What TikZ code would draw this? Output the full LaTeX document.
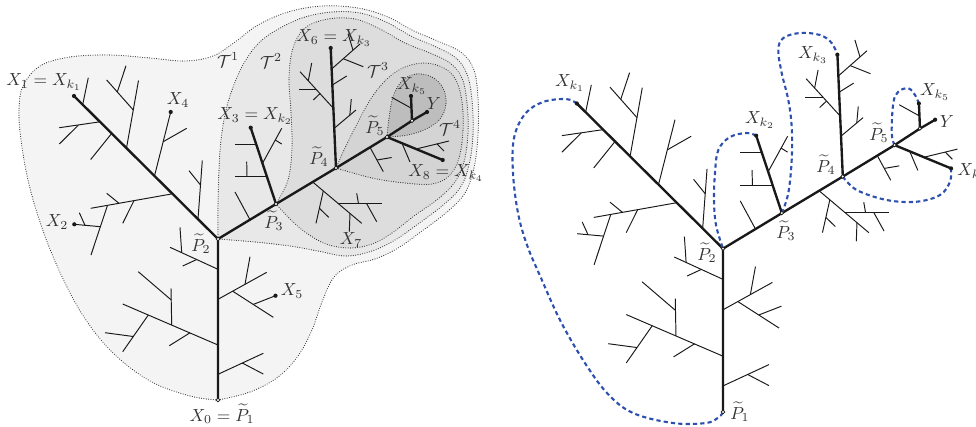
\documentclass[tikz,border=0pt]{standalone}
\usepackage{amsmath}
\definecolor{tA}{gray}{0.955}
\definecolor{tB}{gray}{0.91}
\definecolor{tC}{gray}{0.865}
\definecolor{tD}{gray}{0.83}
\definecolor{tE}{gray}{0.74}
\definecolor{bl}{RGB}{45,80,175}
\tikzset{
 trunk/.style={line width=1.35pt, line cap=round, line join=round, draw=black!90},
 leaf/.style={line width=0.55pt, draw=black!90},
 region/.style={draw=black!80, line width=0.65pt, line cap=round, dash pattern=on 0pt off 1.35pt},
 lbl/.style={inner sep=0pt, text=black!80},
 bluedash/.style={draw=bl, line width=1.2pt, dash pattern=on 2.4pt off 1.8pt},
 pcirc/.style={draw=black!90, line width=0.4pt, fill=white},
}
\newcommand\mytree[1]{%
 \coordinate (#1P1) at (218,400);
 \coordinate (#1P2) at (218,239);
 \coordinate (#1X1) at (74,96);
 \coordinate (#1P3) at (276,204);
 \coordinate (#1P4) at (336,168);
 \coordinate (#1P5) at (387,137);
 \coordinate (#1K) at (412,120.7);
 \coordinate (#1Y) at (427,112);
 \coordinate (#1Xk5) at (411,96);
 \coordinate (#1X8) at (442.7,160);
 \coordinate (#1X3) at (250.7,127.7);
 \coordinate (#1X6) at (330.7,48);
 \coordinate (#1X4) at (170.7,112);
 \coordinate (#1X2) at (74.3,224.3);
 \coordinate (#1X5) at (275.5,295.7);
 \coordinate (#1X7) at (349.3,231.7);
 % leaves on X1--P2
 \draw[leaf] (82.7,104.6)--(88.3,77.7);
 \draw[leaf] (100,121.8)--(59.3,127.7);
 \draw[leaf] (78.3,125.2)--(59.3,144);
 \draw[leaf] (111.7,133.4)--(90.7,159.5);
 \draw[leaf] (126.5,148.1)--(138.5,80.5);
 \draw[leaf] (133.3,110)--(106.7,80);
 \draw[leaf] (117.3,92)--(126,65.7);
 \draw[leaf] (154.5,175.9)--(#1X4);
 \draw[leaf] (163.2,141.7)--(186.7,128.3);
 \draw[leaf] (172.5,193.8)--(90.7,208.3);
 \draw[leaf] (119,203.3)--(106.7,193.3);
 \draw[leaf] (134,200.6)--(122.7,223.3);
 \draw[leaf] (107.5,205.3)--(91,255);
 \draw[leaf] (100.5,226.7)--(#1X2);
 \draw[leaf] (85,225.3)--(79.3,212.7);
 \draw[leaf] (198,219.1)--(202.3,160.5);
 \draw[leaf] (200.5,185)--(189,170.7);
 % leaves on trunk P2--P1
 \draw[leaf] (218,269.3)--(170,247.3);
 \draw[leaf] (181.7,252.7)--(180,227.3);
 \draw[leaf] (196.7,259.5)--(182.7,266);
 \draw[leaf] (218,299.3)--(266.7,272.3);
 \draw[leaf] (245,284.3)--(250,256.7);
 \draw[leaf] (232.7,291.2)--(273.3,317.3);
 \draw[leaf] (253.3,304.4)--(#1X5);
 \draw[leaf] (218,345)--(122.7,304);
 \draw[leaf] (171.7,325.1)--(171,288.3);
 \draw[leaf] (171.3,300)--(138.3,271.7);
 \draw[leaf] (148.3,315)--(122.7,351.7);
 \draw[leaf] (133.3,336.5)--(105,332.7);
 \draw[leaf] (190,332.8)--(169.3,345.7);
 \draw[leaf] (218,374.3)--(263.3,353.3);
 \draw[leaf] (242.3,363)--(263.3,374);
 % P2--P3
 \draw[leaf] (250,219.7)--(235,192);
 % P3--X3
 \draw[leaf] (256.1,144)--(235,144);
 \draw[leaf] (266.9,176.7)--(235,176.7);
 \draw[leaf] (247,176.7)--(246.7,161.7);
 \draw[leaf] (262.5,163.3)--(281.7,128.3);
 \draw[leaf] (275.3,140)--(281.7,144);
 % P3--P4
 \draw[leaf] (312.7,182)--(361.7,223.3);
 \draw[leaf] (323.3,190.9)--(316,223.3);
 \draw[leaf] (319.4,208.3)--(328.7,217.3);
 \draw[leaf] (338.4,203.7)--(381.7,203.7);
 \draw[leaf] (356.7,193.3)--(358.5,203.7);
 \draw[leaf] (366.7,203.7)--(376.7,221.7);
 \draw[leaf] (350,213.4)--(#1X7);
 % P4--P5
 \draw[leaf] (370,147.3)--(383.3,171.7);
 \draw[leaf] (376.9,160)--(391.7,157.5);
 % P4--X6
 \draw[leaf] (331.6,69)--(360,44);
 \draw[leaf] (353,50.2)--(348,33.5);
 \draw[leaf] (343.3,58.7)--(363.3,66.7);
 \draw[leaf] (332.3,85)--(346.7,76);
 \draw[leaf] (333.4,108.3)--(300,71.7);
 \draw[leaf] (308.3,80.8)--(311.7,63);
 \draw[leaf] (316.5,89.8)--(299.3,89.8);
 \draw[leaf] (320,93.6)--(313.3,100);
 \draw[leaf] (334.2,128.3)--(356,110);
 \draw[leaf] (349.8,115.3)--(351.3,99);
 % Xk5
 \draw[leaf] (411.5,108.3)--(391.7,97.3);
 % P5--X8
 \draw[leaf] (402,143.2)--(410,162);
 \draw[leaf] (416,149)--(449,141);
 \draw[leaf] (437,143.9)--(444,151);
 % thick paths
 \draw[trunk] (#1P1)--(#1P2)--(#1X1);
 \draw[trunk] (#1P2)--(#1P3)--(#1P4)--(#1P5)--(#1K)--(#1Y);
 \draw[trunk] (#1P3)--(#1X3);
 \draw[trunk] (#1P4)--(#1X6);
 \draw[trunk] (#1P5)--(#1X8);
 \draw[trunk] (#1K)--(#1Xk5);
}
\newcommand\mycircles[1]{%
 \foreach \q in {P1,P2,P3,P4,P5,K} {\draw[pcirc] (#1\q) circle (1.8);}
}
\begin{document}
\begin{tikzpicture}[x=0.5714pt,y=-0.5714pt]
\useasboundingbox (0,0) rectangle (976,426);
\clip (0,0) rectangle (976,426);
\coordinate (LP1) at (218,400);
\coordinate (LP2) at (218,239);
\coordinate (LP3) at (276,204);
\coordinate (LP4) at (336,168);
\coordinate (LP5) at (387,137);
% ---------- regions ----------
\filldraw[region, fill=tA] plot[smooth, tension=0.6] coordinates {(LP1) (190,396) (150,381) (112,352) (82,314) (58,268) (40,222) (28,180) (21,140) (19,110) (23,86) (40,66) (70,57) (110,55) (150,58) (185,61) (213,56) (235,42) (258,25) (288,12) (322,6) (358,8) (388,17) (414,31) (440,42) (462,53) (474,70) (478,98) (478,135) (474,168) (465,193) (447,212) (422,231) (398,248) (375,259) (352,265) (334,277) (322,302) (312,330) (298,356) (278,377) (250,392) (LP1)} -- cycle;
\filldraw[region, fill=tB] plot[smooth, tension=0.6] coordinates {(LP2) (218,205) (219,170) (221,140) (226,110) (235,82) (247,58) (262,40) (282,27) (305,17) (332,12) (360,13) (386,22) (411,36) (436,47) (456,58) (467,74) (472,100) (473,135) (469,165) (460,188) (442,206) (418,224) (395,240) (372,251) (346,256) (318,251) (290,246) (255,242) (LP2)} -- cycle;
\filldraw[region, fill=tC] plot[smooth, tension=0.6] coordinates {(LP3) (288,180) (292,148) (291,112) (289,78) (293,48) (305,28) (328,19) (355,19) (380,29) (405,43) (430,53) (450,63) (462,78) (467,103) (468,133) (464,162) (455,182) (438,199) (414,216) (392,233) (372,244) (350,248) (326,244) (305,232) (290,219) (LP3)} -- cycle;
\filldraw[region, fill=tD] plot[smooth, tension=0.6] coordinates {(LP4) (345,148) (358,122) (372,97) (388,78) (405,67) (425,63) (444,68) (456,80) (462,102) (463,130) (459,158) (449,176) (432,184) (405,183) (372,178) (LP4)} -- cycle;
\filldraw[region, fill=tE] plot[smooth, tension=0.6] coordinates {(LP5) (389,118) (393,97) (402,81) (416,74) (432,77) (443,88) (446,104) (440,119) (426,129) (408,135) (LP5)} -- cycle;
% ---------- left tree ----------
\begin{scope}
\mytree{L}
\end{scope}
% ---------- right tree ----------
\begin{scope}[shift={(501.7,6)}, scale=1.015]
\mytree{R}
\end{scope}
% ---------- blue dashed curves ----------
\draw[bluedash] plot[smooth, tension=0.6] coordinates {(RX1) (566,99) (543,102) (525,114) (514,138) (513,173) (518,213) (527,245) (541,278) (560,320) (583,360) (607,393) (633,413) (673,423) (706,423) (719,417) (RP1)};
\draw[bluedash] plot[smooth, tension=0.6] coordinates {(RX3) (746.7,133) (730,137) (718.3,150) (715,173) (714,200) (716,225) (RP2)};
\draw[bluedash] plot[smooth, tension=0.6] coordinates {(RP3) (788.3,193) (791.7,160) (791.7,127) (788.3,100) (781.7,73) (778.3,50) (783.3,38) (800,33) (820,35) (831.7,43) (RX6)};
\draw[bluedash] plot[smooth, tension=0.6] coordinates {(RP4) (856.7,190) (886.7,200) (916.7,201.7) (940,195) (950,181.7) (RX8)};
\draw[bluedash] plot[smooth, tension=0.6] coordinates {(RP5) (891.7,133) (893.3,103) (898.3,91.7) (908.3,88.3) (915,95) (RXk5)};
% ---------- circles and dots ----------
\mycircles{L}
\mycircles{R}
\foreach \q in {X1,X4,X2,X5,X3,X6,Xk5,Y,X8} {\fill[black!90] (L\q) circle (2.1);}
\foreach \q in {X1,X3,X6,Xk5,Y,X8} {\fill[black!90] (R\q) circle (2.1);}
% ---------- labels left ----------
\node[lbl] (lX1) at (44,82) {$X_1 = X_{k_1}$};
\node[lbl] (lX4) at (178,100) {$X_4$};
\node[lbl] (lX2) at (57,222) {$X_2$};
\node[lbl] (lP2) at (201,244) {$\widetilde{P}_2$};
\node[lbl] (lX5) at (292,291) {$X_5$};
\node[lbl] (lX0) at (222,414) {$X_0 = \widetilde{P}_1$};
\node[lbl] (lX3) at (255,116) {$X_3 = X_{k_2}$};
\node[lbl] (lP3) at (274,221) {$\widetilde{P}_3$};
\node[lbl] (lP4) at (319,157) {$\widetilde{P}_4$};
\node[lbl] (lX7) at (351,240) {$X_7$};
\node[lbl] (lX6) at (334,38) {$X_6 = X_{k_3}$};
\node[lbl] (lT3) at (378,70) {$\mathcal{T}^3$};
\node[lbl] (lXk5) at (412,86) {$X_{k_5}$};
\node[lbl] (lY) at (434,104) {$Y$};
\node[lbl] (lP5) at (375,126) {$\widetilde{P}_5$};
\node[lbl] (lT4) at (450,128) {$\mathcal{T}^4$};
\node[lbl] (lX8) at (446,173) {$X_8 = X_{k_4}$};
\node[lbl] (lT1) at (228,60) {$\mathcal{T}^1$};
\node[lbl] (lT2) at (271,61) {$\mathcal{T}^2$};
% ---------- labels right ----------
\node[lbl] (rXk1) at (570,83) {$X_{k_1}$};
\node[lbl] (rXk2) at (760,120) {$X_{k_2}$};
\node[lbl] (rXk3) at (813,55) {$X_{k_3}$};
\node[lbl] (rXk5) at (935,92) {$X_{k_5}$};
\node[lbl] (rY) at (947,122) {$Y$};
\node[lbl] (rP5) at (879,133) {$\widetilde{P}_5$};
\node[lbl] (rP4) at (826,165) {$\widetilde{P}_4$};
\node[lbl, anchor=west] (rXk4) at (957,172) {$X_{k_4}$};
\node[lbl] (rP3) at (786,231) {$\widetilde{P}_3$};
\node[lbl] (rP2) at (707,253) {$\widetilde{P}_2$};
\node[lbl] (rP1) at (740,412) {$\widetilde{P}_1$};
\end{tikzpicture}
\end{document}
